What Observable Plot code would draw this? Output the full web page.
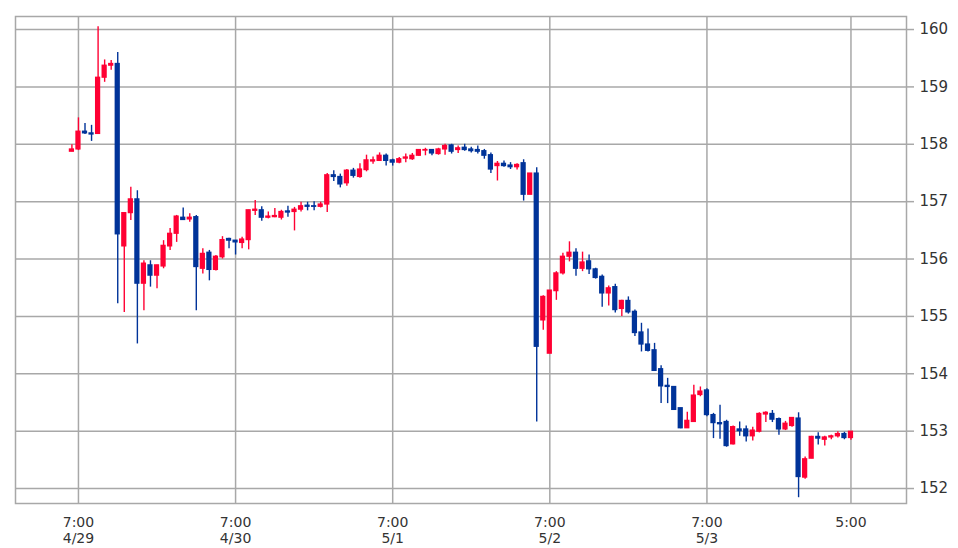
<!DOCTYPE html>
<html><head><meta charset="utf-8">
<script src="https://cdn.jsdelivr.net/npm/d3@7"></script>
<script src="https://cdn.jsdelivr.net/npm/@observablehq/plot@0.6"></script>
<style>body{margin:0;background:#fff;}</style>
</head><body><div id="chart"></div>
<script>
const startTime = "2024-04-29T06:00Z"; // first hourly candle
const open = [157.87,157.91,158.22,158.19,158.18,159.16,159.37,159.40,156.22,156.80,
157.04,155.57,155.89,155.71,155.87,156.22,156.44,156.72,156.69,156.73,
155.83,156.11,155.81,156.03,156.35,156.32,156.28,156.33,156.84,156.85,
156.72,156.73,156.72,156.83,156.82,156.86,156.93,156.92,156.91,156.95,
157.46,157.43,157.32,157.54,157.43,157.55,157.70,157.71,157.80,157.72,
157.68,157.75,157.74,157.80,157.89,157.90,157.83,157.91,157.98,157.90,
157.94,157.91,157.90,157.88,157.81,157.62,157.66,157.63,157.60,157.67,
157.12,157.49,154.93,154.35,155.44,155.75,156.04,156.11,155.83,155.96,
155.82,155.69,155.40,155.51,155.13,155.27,155.08,154.72,154.51,154.41,
154.08,153.79,153.77,153.40,153.05,153.16,153.63,153.71,153.28,153.14,
153.16,152.77,153.03,153.03,152.91,152.99,153.29,153.30,153.21,153.03,
153.09,153.22,152.19,152.52,152.90,152.85,152.89,152.91,152.95,152.88];
const high = [157.99,158.46,158.36,158.33,160.05,159.47,159.46,159.60,156.80,157.25,
157.19,155.97,155.97,155.89,156.32,156.53,156.76,156.89,156.79,156.76,
156.18,156.15,156.06,156.39,156.36,156.32,156.38,156.85,157.02,156.91,
156.82,156.88,156.85,156.92,156.90,156.99,156.99,157.00,156.99,157.49,
157.54,157.48,157.56,157.58,157.66,157.81,157.78,157.85,157.83,157.74,
157.77,157.83,157.84,157.91,157.93,157.91,157.93,158.00,158.00,157.97,
158.00,157.95,157.97,157.91,157.85,157.70,157.71,157.68,157.66,157.73,
157.49,157.59,155.36,155.45,155.78,156.10,156.30,156.18,156.12,156.07,
155.84,155.72,155.53,155.56,155.28,155.34,155.11,154.88,154.78,154.53,
154.14,153.92,153.78,153.40,153.33,153.80,153.77,153.74,153.31,153.45,
153.19,153.09,153.16,153.09,153.07,153.32,153.34,153.36,153.23,153.17,
153.24,153.32,152.55,152.91,152.97,152.91,152.93,152.99,152.98,152.99];
const low = [157.87,157.89,158.17,158.05,158.18,159.08,159.29,155.22,155.07,156.67,
154.52,155.10,155.51,155.48,155.83,156.15,156.29,156.67,156.64,155.10,
155.74,155.62,155.79,156.00,156.18,156.07,156.18,156.16,156.76,156.66,
156.70,156.72,156.68,156.73,156.49,156.82,156.84,156.84,156.89,156.81,
157.35,157.24,157.27,157.41,157.41,157.52,157.65,157.70,157.62,157.62,
157.66,157.68,157.72,157.79,157.80,157.80,157.81,157.81,157.83,157.84,
157.88,157.85,157.83,157.74,157.49,157.36,157.60,157.56,157.55,157.01,
157.12,153.16,154.76,154.35,155.28,155.72,155.95,155.70,155.78,155.73,
155.65,155.16,155.18,155.06,155.00,155.04,154.65,154.38,154.38,154.04,
153.48,153.48,153.37,153.04,153.05,153.15,153.60,153.25,152.87,152.86,
152.72,152.76,152.91,152.81,152.83,152.97,153.15,153.15,152.93,153.01,
153.07,151.84,152.16,152.52,152.76,152.74,152.85,152.88,152.85,152.84];
const close = [157.91,158.22,158.19,158.17,159.16,159.37,159.40,156.43,156.80,157.04,
155.57,155.92,155.71,155.89,156.23,156.44,156.74,156.68,156.72,155.86,
156.09,155.81,156.04,156.33,156.32,156.29,156.34,156.85,156.86,156.72,
156.74,156.75,156.82,156.81,156.86,156.92,156.91,156.91,156.95,157.46,
157.43,157.30,157.54,157.45,157.56,157.72,157.72,157.80,157.71,157.68,
157.74,157.77,157.80,157.90,157.90,157.84,157.91,157.97,157.87,157.93,
157.90,157.88,157.87,157.80,157.56,157.66,157.62,157.60,157.64,157.12,
157.49,154.47,155.34,155.45,155.75,156.04,156.11,155.83,155.94,155.82,
155.67,155.40,155.49,155.11,155.27,155.07,154.71,154.51,154.40,154.05,
153.78,153.77,153.37,153.05,153.18,153.62,153.69,153.28,153.14,153.12,
152.74,153.07,153.00,152.91,153.01,153.30,153.32,153.20,153.03,153.13,
153.23,152.20,152.51,152.90,152.87,152.89,152.91,152.95,152.88,152.99];

const yTicks = [152,153,154,155,156,157,158,159,160];
const xTickTimes = ["2024-04-29T07:00Z","2024-04-30T07:00Z","2024-05-01T07:00Z","2024-05-02T07:00Z","2024-05-03T07:00Z","2024-05-04T05:00Z"];
const xTickLabels = ["7:00\n4/29","7:00\n4/30","7:00\n5/1","7:00\n5/2","7:00\n5/3","5:00"];

const UP = "#ff0033", DOWN = "#003399", GRID = "#a8a8a8";
const t0 = new Date(startTime);
const candles = open.map((o, i) => {
  const date = d3.utcHour.offset(t0, i);
  return {date, t1: d3.utcMinute.offset(date, -24), t2: d3.utcMinute.offset(date, 24),
    open: o, high: high[i], low: low[i], close: close[i]};
});
const xTicks = xTickTimes.map(s => new Date(s));
const labelOf = new Map(xTicks.map((d, i) => [+d, xTickLabels[i]]));
const col = d => d.close >= d.open ? UP : DOWN;

const chart = Plot.plot({
  width: 958, height: 548,
  marginLeft: 15, marginRight: 52, marginTop: 16, marginBottom: 45,
  style: {fontFamily: "DejaVu Sans, sans-serif", fontSize: "14px", color: "#333", background: "#fff"},
  x: {type: "utc", domain: [new Date(Date.UTC(2024,3,28,21,23)), new Date(Date.UTC(2024,4,4,13,29))]},
  y: {domain: [151.739, 160.227]},
  marks: [
    Plot.gridY(yTicks, {stroke: GRID, strokeOpacity: 1, strokeWidth: 1.5}),
    Plot.gridX(xTicks, {stroke: GRID, strokeOpacity: 1, strokeWidth: 1.5}),
    Plot.frame({stroke: GRID, strokeWidth: 1.5}),
    Plot.axisY(yTicks, {anchor: "right", tickSize: 7, tickPadding: 6, stroke: GRID, strokeWidth: 1.5, fontSize: 15, tickFormat: d => String(d)}),
    Plot.axisX(xTicks, {anchor: "bottom", tickSize: 0, tickPadding: 13, fontSize: 14, lineHeight: 1.1, tickFormat: d => labelOf.get(+d)}),
    Plot.ruleX(candles, {x: "date", y1: "low", y2: "high", stroke: col, strokeWidth: 1.4}),
    Plot.rect(candles, {x1: "t1", x2: "t2", y1: "open", y2: "close", fill: col, insetTop: -0.6, insetBottom: -0.6})
  ]
});
document.getElementById("chart").append(chart);
</script>
</body></html>
